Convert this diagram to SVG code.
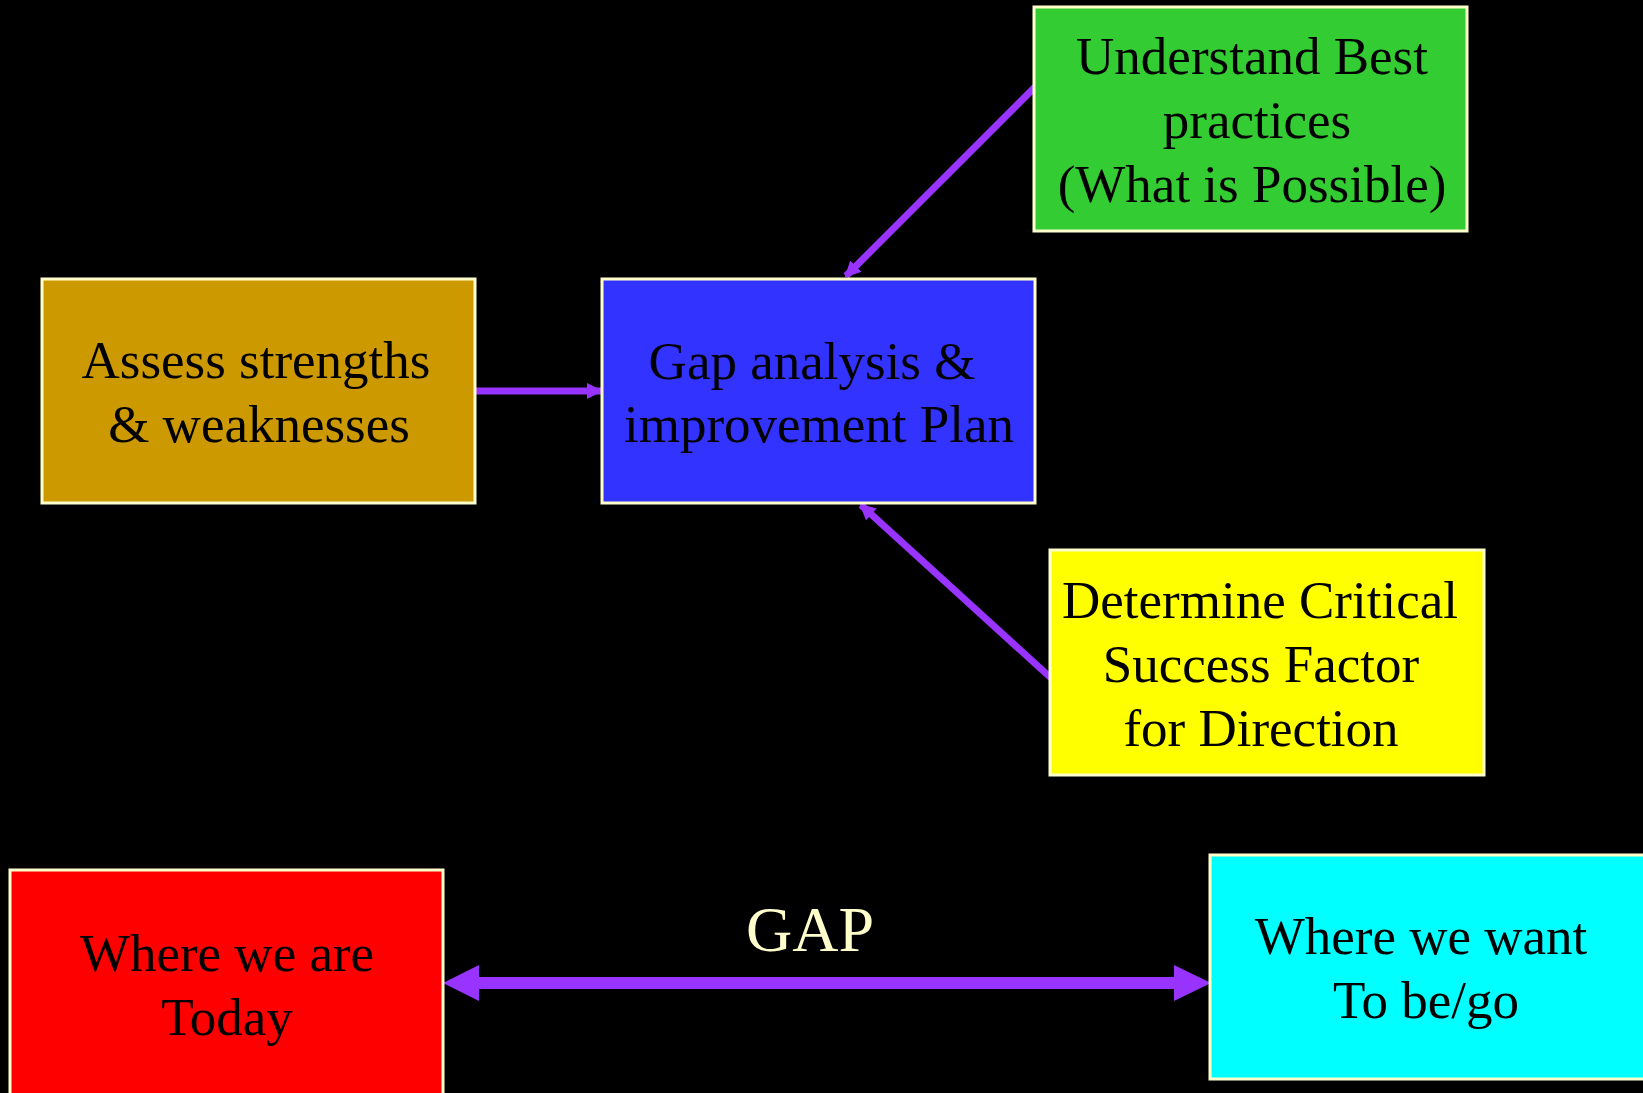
<svg xmlns="http://www.w3.org/2000/svg" width="1643" height="1093" viewBox="0 0 1643 1093">
  <style>
    .box { stroke: #FFFFCC; stroke-width: 3; }
    .lbl { font-family: "Liberation Serif", "Times New Roman", serif; font-size: 53px; fill: #000000; text-anchor: middle; }
    .gap { font-family: "Liberation Serif", "Times New Roman", serif; font-size: 64px; fill: #FFFFCC; text-anchor: middle; }
    .link { stroke: #9933FF; stroke-width: 7; fill: none; marker-end: url(#head); }
  </style>
  <defs>
    <marker id="head" markerUnits="userSpaceOnUse" markerWidth="16" markerHeight="16" refX="14" refY="8" orient="auto" viewBox="0 0 16 16">
      <path d="M0,0 L16,8 L0,16 z" fill="#9933FF"/>
    </marker>
  </defs>

  <rect x="0" y="0" width="1643" height="1093" fill="#000000"/>

  <!-- connectors -->
  <g id="connectors">
    <line class="link" x1="475" y1="391" x2="601" y2="391"/>
    <line class="link" x1="1035" y1="87" x2="846" y2="276"/>
    <line class="link" x1="1051" y1="678" x2="861" y2="505"/>
    <polygon fill="#9933FF" points="443,983 479,965 479,977 1174,977 1174,965 1211,983 1174,1001 1174,989 479,989 479,1001"/>
    <text class="gap" x="810" y="951">GAP</text>
  </g>

  <g id="assess">
    <rect class="box" x="42" y="279" width="433" height="224" fill="#CC9900"/>
    <text class="lbl" x="256" y="378">Assess strengths</text>
    <text class="lbl" x="259" y="442">&amp; weaknesses</text>
  </g>

  <g id="gap-plan">
    <rect class="box" x="602" y="279" width="433" height="224" fill="#3333FF"/>
    <text class="lbl" x="812" y="379">Gap analysis &amp;</text>
    <text class="lbl" x="819" y="442">improvement Plan</text>
  </g>

  <g id="best-practices">
    <rect class="box" x="1034" y="7" width="433" height="224" fill="#33CC33"/>
    <text class="lbl" x="1252" y="74">Understand Best</text>
    <text class="lbl" x="1257" y="138">practices</text>
    <text class="lbl" x="1252" y="202">(What is Possible)</text>
  </g>

  <g id="critical-factors">
    <rect class="box" x="1050" y="550" width="434" height="225" fill="#FFFF00"/>
    <text class="lbl" x="1260" y="618">Determine Critical</text>
    <text class="lbl" x="1261" y="682">Success Factor</text>
    <text class="lbl" x="1261" y="746">for Direction</text>
  </g>

  <g id="today">
    <rect class="box" x="10" y="870" width="433" height="240" fill="#FF0000"/>
    <text class="lbl" x="227" y="971">Where we are</text>
    <text class="lbl" x="227" y="1035">Today</text>
  </g>

  <g id="target">
    <rect class="box" x="1210" y="855" width="440" height="224" fill="#00FFFF"/>
    <text class="lbl" x="1421" y="954">Where we want</text>
    <text class="lbl" x="1426" y="1018">To be/go</text>
  </g>
</svg>
